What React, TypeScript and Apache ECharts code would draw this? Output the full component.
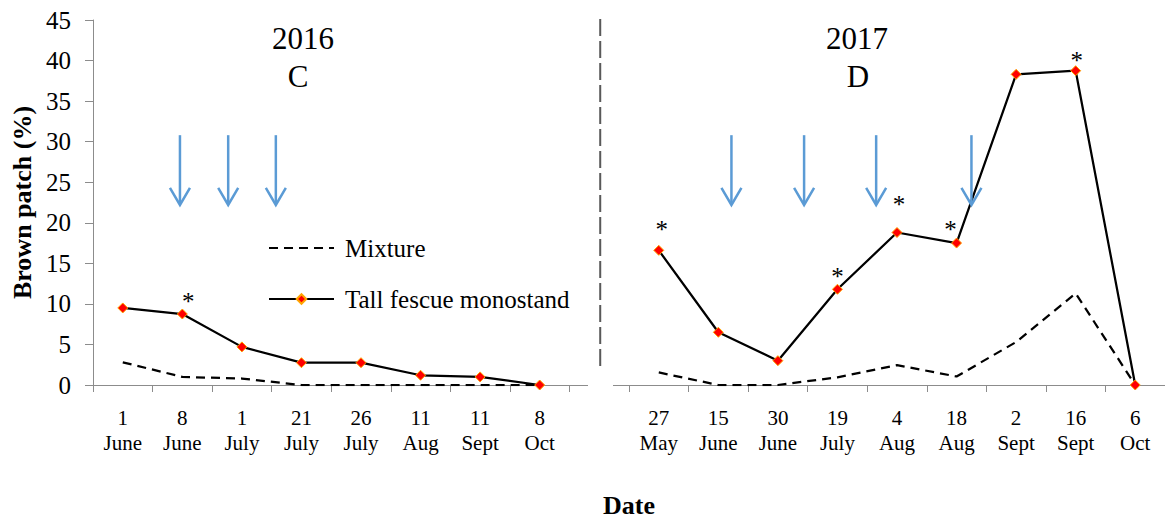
import React, { useEffect, useRef } from "react";
import * as echarts from "echarts";

// ---------- data ----------
const dates2016 = ["1\nJune", "8\nJune", "1\nJuly", "21\nJuly", "26\nJuly", "11\nAug", "11\nSept", "8\nOct"];
const dates2017 = ["27\nMay", "15\nJune", "30\nJune", "19\nJuly", "4\nAug", "18\nAug", "2\nSept", "16\nSept", "6\nOct"];

const mixture2016 = [2.8, 1.0, 0.8, 0, 0, 0, 0, 0];
const tallFescue2016 = [9.5, 8.75, 4.7, 2.75, 2.75, 1.2, 1.0, 0];

const mixture2017 = [1.55, 0, 0, 0.95, 2.45, 1.05, 5.3, 11.3, 0];
const tallFescue2017 = [16.6, 6.5, 3.0, 11.8, 18.8, 17.5, 38.3, 38.75, 0];

// significant differences (indices into tall fescue series)
const sig2016 = [1];
const sig2017 = [0, 3, 4, 5, 7];

// fungicide application arrows, as fractional category positions
const arrows2016 = [0.96, 1.77, 2.57];
const arrows2017 = [1.22, 2.44, 3.65, 5.25];
const arrowTop = 30.8;
const arrowTip = 22.2;

const yMin = 0;
const yMax = 45;
const yInterval = 5;

const panelTitles = [
  { year: "2016", panel: "C" },
  { year: "2017", panel: "D" },
];

// ---------- layout ----------
const W = 1165;
const H = 523;
const GRID_LEFT = 93;
const GRID_RIGHT = 0;
const GRID_TOP = 20;
const GRID_BOTTOM = 138;
const FONT = '"Liberation Serif", "Times New Roman", serif';

// star label offsets per point (visual nudges)
const starOffset2016: Record<number, [number, number]> = { 1: [6, -13] };
const starOffset2017: Record<number, [number, number]> = {
  0: [3, -21],
  3: [0, -13],
  4: [2, -28],
  5: [-6, -14],
  7: [1, -10],
};

export default function App() {
  const ref = useRef<HTMLDivElement>(null);

  useEffect(() => {
    if (!ref.current) return;
    const chart = echarts.init(ref.current, undefined, { renderer: "svg" });

    const categories = [...dates2016, "", ...dates2017];
    const gapIdx = dates2016.length;
    const nCat = categories.length;

    const mixture = [...mixture2016, null, ...mixture2017];

    const mkTall = (vals: number[], sig: number[], offs: Record<number, [number, number]>) =>
      vals.map((v, i) =>
        sig.includes(i)
          ? {
              value: v,
              label: {
                show: true,
                formatter: "*",
                position: "inside",
                offset: offs[i] || [0, -16],
                fontSize: 25,
                fontFamily: FONT,
                color: "#000",
              },
            }
          : v
      );
    const tall = [
      ...mkTall(tallFescue2016, sig2016, starOffset2016),
      null,
      ...mkTall(tallFescue2017, sig2017, starOffset2017),
    ];

    const gridW = W - GRID_LEFT - GRID_RIGHT;
    const gridH = H - GRID_TOP - GRID_BOTTOM;
    const band = gridW / nCat;
    const xPix = (idx: number) => GRID_LEFT + (idx + 0.5) * band;
    const yPix = (v: number) => GRID_TOP + gridH - ((v - yMin) / (yMax - yMin)) * gridH;

    const arrowEls: any[] = [];
    const allArrows = [...arrows2016, ...arrows2017.map((a) => a + gapIdx + 1)];
    allArrows.forEach((a) => {
      const x = xPix(a);
      const y1 = yPix(arrowTop);
      const y2 = yPix(arrowTip);
      arrowEls.push({
        type: "line",
        z: 100,
        shape: { x1: x, y1, x2: x, y2: y2 - 1 },
        style: { stroke: "#5B9BD5", lineWidth: 2.5 },
      });
      arrowEls.push({
        type: "polyline",
        z: 100,
        shape: { points: [[x - 10, y2 - 17], [x, y2], [x + 10, y2 - 17]] },
        style: { stroke: "#5B9BD5", lineWidth: 2.5, fill: "none" },
      });
    });

    const titleEls: any[] = [];
    panelTitles.forEach((t, i) => {
      const cx = i === 0 ? 303 : 857;
      titleEls.push({
        type: "text",
        z: 100,
        x: cx,
        y: 38,
        style: { text: t.year, fontSize: 31, fontFamily: FONT, fill: "#000", align: "center", verticalAlign: "middle" },
      });
      titleEls.push({
        type: "text",
        z: 100,
        x: cx - (i === 0 ? 5 : -1),
        y: 76,
        style: { text: t.panel, fontSize: 31, fontFamily: FONT, fill: "#000", align: "center", verticalAlign: "middle" },
      });
    });

    const sepX = xPix(gapIdx) + 1;
    const axisY = yPix(0);

    chart.setOption({
      animation: false,
      backgroundColor: "#fff",
      textStyle: { fontFamily: FONT },
      grid: { left: GRID_LEFT, right: GRID_RIGHT, top: GRID_TOP, bottom: GRID_BOTTOM, containLabel: false },
      legend: {
        data: [
          { name: "Mixture", itemStyle: { opacity: 0 } },
          { name: "Tall fescue monostand" },
        ],
        orient: "vertical",
        left: 268,
        top: 235,
        padding: 0,
        itemWidth: 65,
        itemHeight: 12,
        itemGap: 25,
        textStyle: { fontSize: 25, fontFamily: FONT, color: "#000", lineHeight: 26, padding: [0, 0, 0, 6] },
      },
      xAxis: {
        type: "category",
        data: categories,
        boundaryGap: true,
        name: "Date",
        nameLocation: "middle",
        nameGap: 107,
        nameTextStyle: { fontSize: 26, fontWeight: "bold", fontFamily: FONT, color: "#000" },
        axisLine: { lineStyle: { color: "#8C8C8C", width: 1 } },
        axisTick: { show: true, length: 7, lineStyle: { color: "#8C8C8C" }, interval: 0 },
        axisLabel: { interval: 0, fontSize: 21, lineHeight: 25, fontFamily: FONT, color: "#000", margin: 20 },
        splitLine: { show: false },
      },
      yAxis: {
        type: "value",
        min: yMin,
        max: yMax,
        interval: yInterval,
        name: "Brown patch (%)",
        nameLocation: "middle",
        nameGap: 57,
        nameTextStyle: { fontSize: 26, fontWeight: "bold", fontFamily: FONT, color: "#000" },
        axisLine: { show: true, lineStyle: { color: "#8C8C8C", width: 1 } },
        axisTick: { show: true, length: 8, lineStyle: { color: "#8C8C8C" } },
        axisLabel: { fontSize: 25, fontFamily: FONT, color: "#000", margin: 22 },
        splitLine: { show: false },
      },
      series: [
        {
          name: "Mixture",
          type: "line",
          data: mixture,
          symbol: "none",
          connectNulls: false,
          lineStyle: { color: "#000", width: 2.25, type: [9, 6] },
          itemStyle: { color: "#000" },
          z: 2,
        },
        {
          name: "Tall fescue monostand",
          type: "line",
          data: tall,
          symbol: "diamond",
          symbolSize: 10,
          connectNulls: false,
          lineStyle: { color: "#000", width: 2.25 },
          itemStyle: { color: "#FF0000", borderColor: "#FFA500", borderWidth: 1 },
          z: 3,
        },
      ],
      graphic: [
        {
          type: "rect",
          z: 100,
          shape: { x: 588, y: axisY - 3, width: 25, height: 6 },
          style: { fill: "#fff" },
        },
        {
          type: "line",
          z: 100,
          shape: { x1: sepX, y1: 19, x2: sepX, y2: 368 },
          style: { stroke: "#595959", lineWidth: 2, lineDash: [17, 5] },
        },
        ...titleEls,
        ...arrowEls,
      ],
    });

    return () => chart.dispose();
  }, []);

  return (
    <div
      ref={ref}
      style={{ position: "fixed", left: 0, top: 0, width: W, height: H, background: "#fff" }}
    />
  );
}
